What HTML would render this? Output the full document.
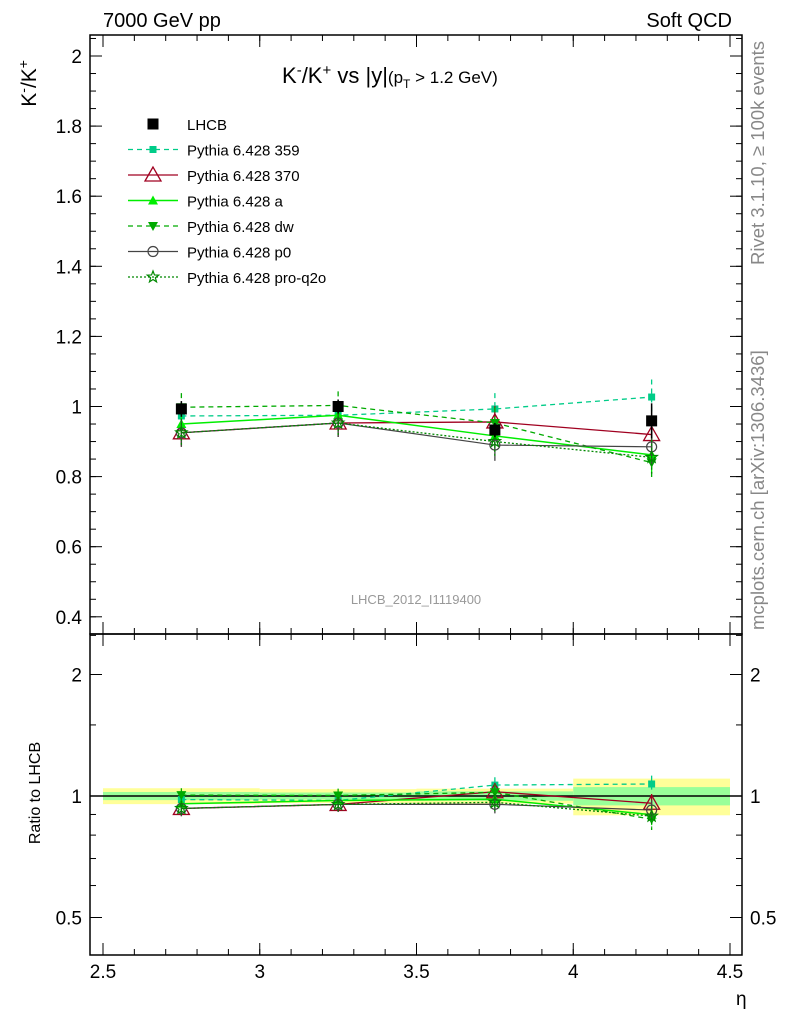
<!DOCTYPE html>
<html><head><meta charset="utf-8"><style>
body{margin:0;background:#fff;}
svg text{font-family:"Liberation Sans",sans-serif;}
</style></head><body>
<svg id="c" width="786" height="1024" xmlns="http://www.w3.org/2000/svg">
<text x="103" y="27" font-size="20">7000 GeV pp</text>
<text x="732" y="27" font-size="20" text-anchor="end">Soft QCD</text>
<text x="36" y="60" font-size="21" transform="rotate(-90 36 60)" text-anchor="end">K<tspan dy="-8" font-size="14">-</tspan><tspan dy="8">/K</tspan><tspan dy="-8" font-size="14">+</tspan></text>
<text x="282" y="83" font-size="22">K<tspan dy="-8" font-size="15">-</tspan><tspan dy="8">/K</tspan><tspan dy="-8" font-size="15">+</tspan><tspan dy="8"> vs |y|</tspan><tspan font-size="17">(p</tspan><tspan font-size="12" dy="5">T</tspan><tspan font-size="17" dy="-5"> &gt; 1.2 GeV)</tspan></text>
<text x="764" y="265" font-size="18.5" fill="#888" transform="rotate(-90 764 265)">Rivet 3.1.10, ≥ 100k events</text>
<text x="764" y="630" font-size="18.5" fill="#888" transform="rotate(-90 764 630)">mcplots.cern.ch [arXiv:1306.3436]</text>
<text x="416" y="604" font-size="13" fill="#999" text-anchor="middle">LHCB_2012_I1119400</text>
<text x="40" y="793" font-size="16" transform="rotate(-90 40 793)" text-anchor="middle">Ratio to LHCB</text>
<text x="736" y="1005" font-size="19">η</text>
<g id="g"></g>
</svg>
<script>
const xs=[2.75,3.25,3.75,4.25];
const xTicks=[2.5,3,3.5,4,4.5];
const yTicks=[0.4,0.6,0.8,1,1.2,1.4,1.6,1.8,2];
const rTicks=[0.5,1,2];
const lhcb=[0.993,1.0,0.933,0.959];
const lhcbStat=[0.023,0.02,0.025,0.05];
const lhcbTot=[0.045,0.04,0.04,0.1];
const s359=[0.973,0.975,0.993,1.027];
const s370=[0.925,0.953,0.956,0.92];
const sA=[0.95,0.975,0.916,0.862];
const sDw=[0.998,1.003,0.953,0.84];
const sP0=[0.925,0.953,0.89,0.885];
const sQ2o=[0.925,0.953,0.9,0.855];
const mcErr=[0.04,0.04,0.045,0.05];
const NS="http://www.w3.org/2000/svg";
const g=document.getElementById('g');
const X=v=>103+(v-2.5)*313.5;
const Y=v=>406.5-(v-1)*350.5;
const R=v=>796-Math.log2(v)*121.5;
function el(t,a,p){const e=document.createElementNS(NS,t);for(const k in a)e.setAttribute(k,a[k]);(p||g).appendChild(e);return e;}
xs.forEach((x,i)=>{
 const x0=X(x-0.25),x1=X(x+0.25);
 let e=el('rect',{x:x0,y:R(1+lhcbTot[i]/lhcb[i]),width:x1-x0,height:R(1-lhcbTot[i]/lhcb[i])-R(1+lhcbTot[i]/lhcb[i]),fill:'#ffff99'});
 
 
 e=el('rect',{x:x0,y:R(1+lhcbStat[i]/lhcb[i]),width:x1-x0,height:R(1-lhcbStat[i]/lhcb[i])-R(1+lhcbStat[i]/lhcb[i]),fill:'#99ff99'});
 
 
});
el('line',{x1:90,x2:742,y1:R(1),y2:R(1),stroke:'#000','stroke-width':1.5});
let f=el('rect',{x:90,y:35,width:652,height:599,fill:'none',stroke:'#000','stroke-width':1.5});


f=el('rect',{x:90,y:634,width:652,height:321,fill:'none',stroke:'#000','stroke-width':1.5});


xTicks.forEach(v=>{
 const x=X(v);
 [[35,1],[634,-1],[634,1],[955,-1]].forEach(([y,d])=>el('line',{x1:x,x2:x,y1:y,y2:y+d*12,stroke:'#000'}));
 const t=el('text',{x:x,y:978,'font-size':19,'text-anchor':'middle'});t.textContent=v;
 
 
});
for(let v=2.5;v<=4.5001;v+=0.1){const x=X(v);[[35,1],[634,-1],[634,1],[955,-1]].forEach(([y,d])=>el('line',{x1:x,x2:x,y1:y,y2:y+d*6,stroke:'#000'}));}
yTicks.forEach(v=>{
 const y=Y(v);
 el('line',{x1:90,x2:102,y1:y,y2:y,stroke:'#000'});el('line',{x1:742,x2:730,y1:y,y2:y,stroke:'#000'});
 const t=el('text',{x:82,y:y+7,'font-size':19,'text-anchor':'end'});t.textContent=v;
 
 
});
for(let v=0.35;v<2.06;v+=0.05){const y=Y(v);if(y<35||y>634)continue;el('line',{x1:90,x2:96,y1:y,y2:y,stroke:'#000'});el('line',{x1:742,x2:736,y1:y,y2:y,stroke:'#000'});}
rTicks.forEach(v=>{
 const y=R(v);
 el('line',{x1:90,x2:102,y1:y,y2:y,stroke:'#000'});el('line',{x1:742,x2:730,y1:y,y2:y,stroke:'#000'});
 let t=el('text',{x:82,y:y+7,'font-size':19,'text-anchor':'end'});t.textContent=v;
 
 
 t=el('text',{x:750,y:y+7,'font-size':19});t.textContent=v;
 
 
});
[0.4,0.6,0.7,0.8,0.9,1.5,2.5].forEach(v=>{const y=R(v);if(y<634||y>955)return;el('line',{x1:90,x2:96,y1:y,y2:y,stroke:'#000'});el('line',{x1:742,x2:736,y1:y,y2:y,stroke:'#000'});});
function marker(type,x,y,col,p){
 if(type==='sq')return el('rect',{x:x-3.5,y:y-3.5,width:7,height:7,fill:col},p);
 if(type==='bigsq')return el('rect',{x:x-5.5,y:y-5.5,width:11,height:11,fill:col},p);
 if(type==='otri')return el('polygon',{points:`${x},${y-8} ${x-8},${y+6} ${x+8},${y+6}`,fill:'none',stroke:col,'stroke-width':1.3},p);
 if(type==='tri')return el('polygon',{points:`${x},${y-5} ${x-5},${y+4} ${x+5},${y+4}`,fill:col},p);
 if(type==='dtri')return el('polygon',{points:`${x},${y+5} ${x-5},${y-4} ${x+5},${y-4}`,fill:col},p);
 if(type==='circ')return el('circle',{cx:x,cy:y,r:5,fill:'none',stroke:col,'stroke-width':1.2},p);
 if(type==='star'){let pts=[];for(let k=0;k<10;k++){const r=k%2?2.5:6,a=-Math.PI/2+k*Math.PI/5;pts.push((x+r*Math.cos(a))+','+(y+r*Math.sin(a)));}return el('polygon',{points:pts.join(' '),fill:'none',stroke:col,'stroke-width':1.2},p);}
}
const series=[
 {name:'Pythia 6.428 359',v:s359,col:'#00cc88',dash:'5,4',m:'sq',w:1.3},
 {name:'Pythia 6.428 370',v:s370,col:'#a00020',dash:'',m:'otri',w:1.3},
 {name:'Pythia 6.428 a',v:sA,col:'#00ee00',dash:'',m:'tri',w:1.5},
 {name:'Pythia 6.428 dw',v:sDw,col:'#00aa00',dash:'5,4',m:'dtri',w:1.3},
 {name:'Pythia 6.428 p0',v:sP0,col:'#444',dash:'',m:'circ',w:1.2},
 {name:'Pythia 6.428 pro-q2o',v:sQ2o,col:'#008800',dash:'2,2',m:'star',w:1.3}
];
series.forEach(s=>{
 const sg=el('g',{});
 
 
 [[Y,v=>v],[R,(v,i)=>v/lhcb[i]]].forEach(([fy,tr])=>{
  const pts=xs.map((x,i)=>X(x)+','+fy(tr(s.v[i],i))).join(' ');
  el('polyline',{points:pts,fill:'none',stroke:s.col,'stroke-width':s.w,'stroke-dasharray':s.dash},sg);
  xs.forEach((x,i)=>{
   const v=tr(s.v[i],i),e=mcErr[i]*v/s.v[i];
   el('line',{x1:X(x),x2:X(x),y1:fy(v+e),y2:fy(v-e),stroke:s.col,'stroke-width':1.3,'stroke-dasharray':s.dash},sg);
   const m=marker(s.m,X(x),fy(v),s.col,sg);
   
   
  });
 });
});
const dg=el('g',{});


xs.forEach((x,i)=>{
 el('line',{x1:X(x),x2:X(x),y1:Y(lhcb[i]+lhcbTot[i]/2),y2:Y(lhcb[i]-lhcbTot[i]/2),stroke:'#000','stroke-width':1.5},dg);
 const m=marker('bigsq',X(x),Y(lhcb[i]),'#000',dg);
 
 
});
const lg=el('g',{});


let ly=124;
marker('bigsq',153,ly,'#000',lg);
let t=el('text',{x:187,y:ly+6,'font-size':15},lg);t.textContent='LHCB';


series.forEach((s,k)=>{
 const y=ly+25.5*(k+1);
 el('line',{x1:128,x2:178,y1:y,y2:y,stroke:s.col,'stroke-width':s.w,'stroke-dasharray':s.dash},lg);
 marker(s.m,153,y,s.col,lg);
 const tt=el('text',{x:187,y:y+6,'font-size':15},lg);tt.textContent=s.name;
 
 
});
</script>
</body></html>
